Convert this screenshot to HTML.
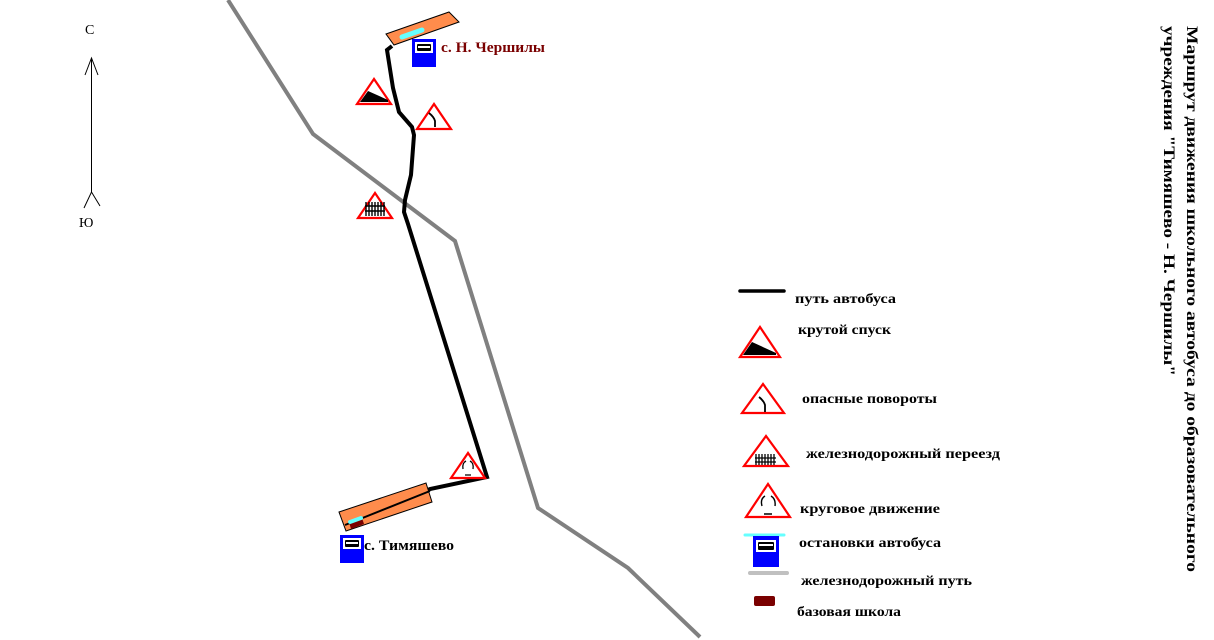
<!DOCTYPE html>
<html><head><meta charset="utf-8"><style>
html,body{margin:0;padding:0;background:#fff;}
svg{display:block;}
text{font-family:"Liberation Serif","DejaVu Serif",serif;font-weight:bold;}
</style></head><body>
<svg width="1214" height="640" viewBox="0 0 1214 640" xmlns="http://www.w3.org/2000/svg">
<defs>
<g id="tri"><polygon points="0,-13 -17,12 17,12" fill="#fff" stroke="#ff0000" stroke-width="2.2"/></g>
<g id="bus">
<rect x="0" y="0" width="24" height="28" fill="#0000ff"/>
<rect x="3" y="3" width="18" height="11" fill="#fff"/>
<rect x="5" y="5" width="14" height="7" fill="#000" rx="1"/>
<rect x="6" y="7" width="12" height="2" fill="#fff"/>
</g>
</defs>

<!-- compass -->
<text x="85" y="34" font-size="14" style="font-weight:normal">С</text>
<line x1="91.5" y1="58" x2="91.5" y2="192" stroke="#000" stroke-width="1"/>
<polyline points="85,75 91.5,58 98,75" fill="none" stroke="#000" stroke-width="1"/>
<polyline points="84,208 91.5,192 100,206" fill="none" stroke="#000" stroke-width="1"/>
<text x="79" y="227" font-size="14" style="font-weight:normal">Ю</text>

<!-- railway -->
<polyline points="228,0 313,134 455,241 538,508 628,568 700,637" fill="none" stroke="#808080" stroke-width="4"/>

<!-- top village -->
<polygon points="386,34 449,12 459,22 394,45" fill="#ff8c4c" stroke="#000" stroke-width="1"/>
<line x1="402" y1="37" x2="422" y2="30" stroke="#66ffff" stroke-width="5" stroke-linecap="round"/>
<use href="#bus" x="412" y="39"/>
<text x="441" y="52" font-size="15" fill="#7a0000" textLength="104" lengthAdjust="spacingAndGlyphs">с. Н. Чершилы</text>

<!-- bus route -->
<polyline points="392,46 387,50 393,88 399,112 412,127 414,135 411,175 405,200 404,212 408,224 487,477 430,489 345,525" fill="none" stroke="#000" stroke-width="4" stroke-linejoin="miter"/>

<!-- bottom village -->
<polygon points="339,512 426,483 432,502 346,531" fill="#ff8c4c" stroke="#000" stroke-width="1"/>
<line x1="345" y1="525" x2="430" y2="491" stroke="#000" stroke-width="2"/>
<polygon points="349,522 362,518 364,524 351,529" fill="#7a0000"/>
<line x1="350" y1="522" x2="361" y2="518" stroke="#66ffff" stroke-width="4" stroke-linecap="round"/>
<use href="#bus" x="340" y="535"/>
<text x="364" y="550" font-size="15" fill="#000" textLength="90" lengthAdjust="spacingAndGlyphs">с. Тимяшево</text>

<!-- map signs -->
<g transform="translate(374,92)"><use href="#tri"/><polygon points="-14,10 -6,-1 14,8 14,10" fill="#000"/></g>
<g transform="translate(434,117)"><use href="#tri"/><path d="M-5,-4 Q0,0 1,4 L1,10" fill="none" stroke="#000" stroke-width="1.8"/></g>
<g transform="translate(375,206)"><use href="#tri"/><g stroke="#000" stroke-width="1.4"><line x1="-9" y1="-4" x2="-9" y2="10"/><line x1="-6" y1="-4" x2="-6" y2="10"/><line x1="-3" y1="-4" x2="-3" y2="10"/><line x1="0" y1="-4" x2="0" y2="10"/><line x1="3" y1="-4" x2="3" y2="10"/><line x1="6" y1="-4" x2="6" y2="10"/><line x1="9" y1="-4" x2="9" y2="10"/><line x1="-10" y1="0" x2="10" y2="0"/><line x1="-10" y1="5" x2="10" y2="5"/></g></g>
<g transform="translate(468,466)"><use href="#tri"/><path d="M-5,3 Q-6,-3 -2,-5 M2,-5 Q6,-3 5,3 M-3,9 L3,9" fill="none" stroke="#000" stroke-width="1.3"/></g>

<!-- legend -->
<line x1="740" y1="291" x2="784" y2="291" stroke="#000" stroke-width="3.5" stroke-linecap="round"/>
<text x="795" y="303" font-size="14" textLength="101" lengthAdjust="spacingAndGlyphs">путь автобуса</text>

<g transform="translate(760,343)"><polygon points="0,-16 -20,14 20,14" fill="#fff" stroke="#ff0000" stroke-width="2.2"/><polygon points="-17,12 -8,-1 16,10 16,12" fill="#000"/></g>
<text x="798" y="334" font-size="14" textLength="93" lengthAdjust="spacingAndGlyphs">крутой спуск</text>

<g transform="translate(763,400)"><polygon points="0,-16 -21,13 21,13" fill="#fff" stroke="#ff0000" stroke-width="2.2"/><path d="M-4,-3 Q1,1 2,5 L2,12" fill="none" stroke="#000" stroke-width="1.8"/></g>
<text x="802" y="403" font-size="14" textLength="135" lengthAdjust="spacingAndGlyphs">опасные повороты</text>

<g transform="translate(766,453)"><polygon points="0,-17 -22,13 22,13" fill="#fff" stroke="#ff0000" stroke-width="2.2"/><g stroke="#000" stroke-width="1.3"><line x1="-10" y1="1" x2="-10" y2="12"/><line x1="-7" y1="1" x2="-7" y2="12"/><line x1="-4" y1="1" x2="-4" y2="12"/><line x1="-1" y1="1" x2="-1" y2="12"/><line x1="2" y1="1" x2="2" y2="12"/><line x1="5" y1="1" x2="5" y2="12"/><line x1="8" y1="1" x2="8" y2="12"/><line x1="-11" y1="5" x2="10" y2="5"/><line x1="-11" y1="9" x2="10" y2="9"/></g></g>
<text x="806" y="458" font-size="14" textLength="194" lengthAdjust="spacingAndGlyphs">железнодорожный переезд</text>

<g transform="translate(768,502)"><polygon points="0,-18 -22,15 22,15" fill="#fff" stroke="#ff0000" stroke-width="2.2"/><path d="M-6,4 Q-8,-3 -3,-6 M3,-6 Q8,-3 7,4 M-4,12 L4,12" fill="none" stroke="#000" stroke-width="1.4"/></g>
<text x="800" y="513" font-size="14" textLength="140" lengthAdjust="spacingAndGlyphs">круговое движение</text>

<line x1="745" y1="535" x2="784" y2="535" stroke="#66ffff" stroke-width="3" stroke-linecap="round"/>
<g transform="translate(753,536)"><rect x="0" y="0" width="26" height="31" fill="#0000ff"/><rect x="3" y="4" width="20" height="12" fill="#fff"/><rect x="5" y="6" width="16" height="8" fill="#000" rx="1"/><rect x="6" y="8" width="14" height="2" fill="#fff"/></g>
<text x="799" y="547" font-size="14" textLength="142" lengthAdjust="spacingAndGlyphs">остановки автобуса</text>

<line x1="750" y1="573" x2="787" y2="573" stroke="#c0c0c0" stroke-width="4" stroke-linecap="round"/>
<text x="801" y="585" font-size="14" textLength="171" lengthAdjust="spacingAndGlyphs">железнодорожный путь</text>

<rect x="754" y="596" width="21" height="10" rx="2" fill="#7a0000"/>
<text x="797" y="616" font-size="14" textLength="104" lengthAdjust="spacingAndGlyphs">базовая школа</text>

<!-- title -->
<text transform="translate(1187,26) rotate(90)" font-size="16" textLength="546" lengthAdjust="spacingAndGlyphs">Маршрут движения школьного автобуса до образовательного</text>
<text transform="translate(1164,26) rotate(90)" font-size="16" textLength="350" lengthAdjust="spacingAndGlyphs">учреждения "Тимяшево - Н. Чершилы"</text>
</svg>
</body></html>
